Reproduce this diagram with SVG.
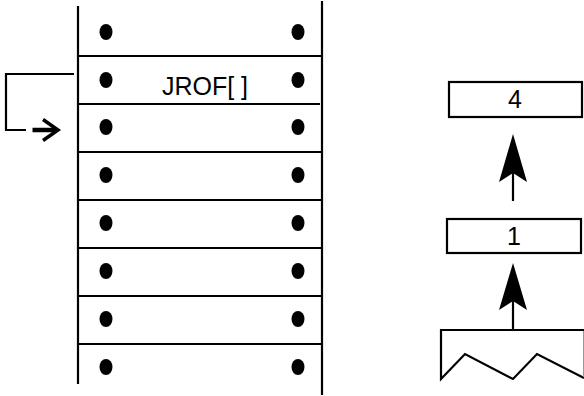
<svg xmlns="http://www.w3.org/2000/svg" width="584" height="396" viewBox="0 0 584 396">
<defs>
<style>
.ln{stroke:#000;stroke-width:2.2;fill:none}
.dot{fill:#000}
.box{fill:#fff;stroke:#000;stroke-width:2.2}
.t{font-family:"Liberation Sans",Arial,sans-serif;font-size:25px;fill:#000;text-anchor:middle}
.head{fill:#000}
</style>
<ellipse id="d" class="dot" rx="6.5" ry="8"/>
</defs>
<rect width="584" height="396" fill="#fff"/>
<g id="stack">
<line class="ln" x1="78" y1="6" x2="78" y2="384"/>
<line class="ln" x1="322" y1="1" x2="322" y2="395"/>
<line class="ln" x1="78" y1="56" x2="322" y2="56"/>
<line class="ln" x1="78" y1="104" x2="320" y2="104"/>
<line class="ln" x1="78" y1="152" x2="322" y2="152"/>
<line class="ln" x1="78" y1="200" x2="322" y2="200"/>
<line class="ln" x1="78" y1="248" x2="322" y2="248"/>
<line class="ln" x1="78" y1="296" x2="322" y2="296"/>
<line class="ln" x1="78" y1="344" x2="322" y2="344"/>
<use href="#d" x="106" y="32"/><use href="#d" x="298" y="32"/>
<use href="#d" x="106" y="80"/><use href="#d" x="298" y="80"/>
<use href="#d" x="106" y="127"/><use href="#d" x="298" y="127"/>
<use href="#d" x="106" y="175"/><use href="#d" x="298" y="175"/>
<use href="#d" x="106" y="223"/><use href="#d" x="298" y="223"/>
<use href="#d" x="106" y="271"/><use href="#d" x="298" y="271"/>
<use href="#d" x="106" y="319"/><use href="#d" x="298" y="319"/>
<use href="#d" x="106" y="367"/><use href="#d" x="298" y="367"/>
<text class="t" x="205" y="95">JROF[ ]</text>
</g>
<g id="box4">
<rect class="box" x="449" y="82" width="133" height="35"/>
<text class="t" x="515" y="108">4</text>
</g>
<g id="box1">
<rect class="box" x="447" y="219" width="134" height="34"/>
<text class="t" x="514" y="245">1</text>
</g>
<g id="base">
<path d="M584,330 H441 V379 L465,354 L513,379 L537,354 L584,378" fill="#fff" stroke="#000" stroke-width="2.2"/>
<line x1="583.5" y1="331" x2="583.5" y2="377" stroke="#999" stroke-width="1"/>
</g>
<g id="connectors">
<path class="ln" d="M74,74 H6 V130 H26"/>
<line x1="32.5" y1="130" x2="56" y2="130" stroke="#000" stroke-width="4.5"/>
<path d="M43,119.5 L58,130 L43,140.5" fill="none" stroke="#000" stroke-width="3.5"/>
<line class="ln" x1="513" y1="170" x2="513" y2="201"/>
<path class="head" d="M513,134 L527,182 L513,173 L499,182 Z"/>
<line class="ln" x1="513" y1="300" x2="513" y2="330"/>
<path class="head" d="M513,263 L527,310 L513,301 L499,310 Z"/>
</g>
</svg>
